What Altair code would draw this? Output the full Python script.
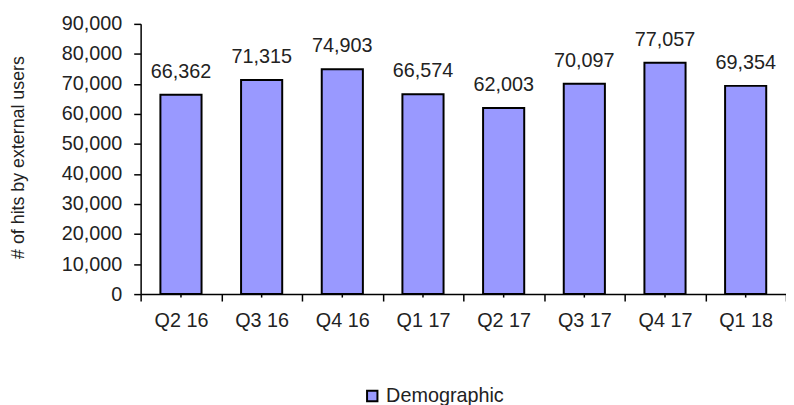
import altair as alt
import pandas as pd

quarters = ["Q2 16", "Q3 16", "Q4 16", "Q1 17", "Q2 17", "Q3 17", "Q4 17", "Q1 18"]
hits = [66362, 71315, 74903, 66574, 62003, 70097, 77057, 69354]
series_name = "Demographic"
y_ticks = [0, 10000, 20000, 30000, 40000, 50000, 60000, 70000, 80000, 90000]

df = pd.DataFrame({"quarter": quarters, "hits": hits, "series": [series_name] * len(quarters)})

FONT = "Liberation Sans"
FS = 20
W, H = 652, 273

x = alt.X("quarter:N", sort=quarters,
          scale=alt.Scale(paddingInner=0, paddingOuter=0),
          axis=alt.Axis(title=None, tickBand="extent", tickSize=7, labelPadding=10,
                        labelAngle=0, labelFontSize=FS, labelFont=FONT, labelColor="#222",
                        domainColor="black", tickColor="black", domainWidth=1.5, tickWidth=1.5))
y = alt.Y("hits:Q", scale=alt.Scale(domain=[0, 90000], nice=False),
          axis=alt.Axis(values=y_ticks, tickCount=10, format=",d",
                        title="# of hits by external users",
                        titleFont=FONT, titleFontSize=18, titleFontWeight="normal", titleColor="#222",
                        titleX=-123, titleY=H / 2 - 2, titleAngle=-90, titleAlign="center",
                        titleBaseline="middle", labelOverlap=False, labelBound=False,
                        labelFlush=False,
                        tickSize=7, labelPadding=12, labelFontSize=FS, labelFont=FONT,
                        labelColor="#222", domainColor="black", tickColor="black",
                        domainWidth=1.5, tickWidth=1.5, grid=False))

bars = alt.Chart(df).mark_bar(stroke="black", strokeWidth=2,
                              width=alt.RelativeBandSize(0.51)).encode(
    x=x, y=y,
    color=alt.Color("series:N", scale=alt.Scale(range=["#9999FF"]),
                    legend=alt.Legend(title=None, orient="none", legendX=224, legendY=366,
                                      symbolType="square", symbolSize=110,
                                      symbolStrokeColor="black", symbolStrokeWidth=2,
                                      symbolOpacity=1, labelFont=FONT, labelFontSize=FS,
                                      labelColor="#222", labelOffset=4)),
)

labels = alt.Chart(df).mark_text(dy=-17, baseline="alphabetic", align="center",
                                 font=FONT, fontSize=FS, color="#222").encode(
    x=x, y=y, text=alt.Text("hits:Q", format=",d"))

minor = alt.Chart(df).mark_rule(color="black", strokeWidth=1.5, clip=False).encode(
    x=x, y=alt.value(H), y2=alt.value(H + 3.5))

chart = alt.layer(bars, labels, minor).properties(
    width=W, height=H,
    autosize=alt.AutoSizeParams(type="none"),
    padding={"left": 134, "top": 14, "right": 0, "bottom": 110},
    background="white",
).configure_view(stroke=None)

chart.save("out.html", embed_options={"renderer": "svg", "actions": False})
